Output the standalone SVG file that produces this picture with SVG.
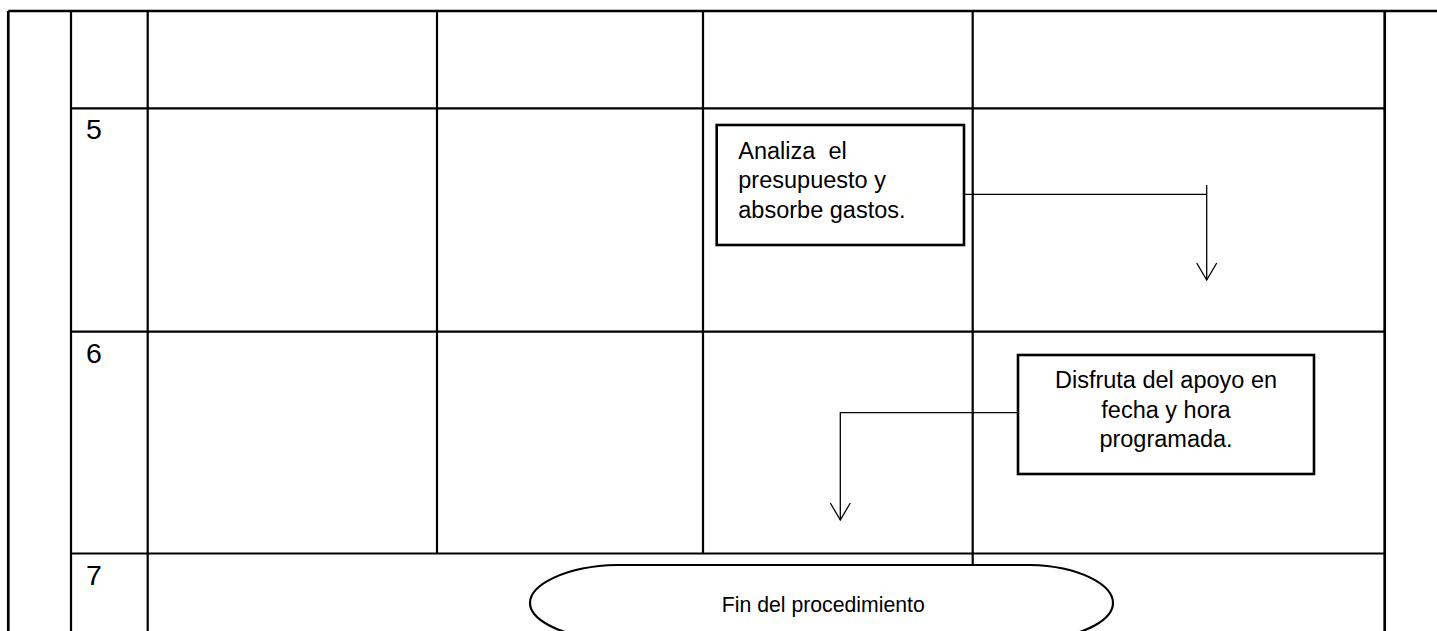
<svg xmlns="http://www.w3.org/2000/svg" width="1437" height="631" viewBox="0 0 1437 631">
<style>
.grid{stroke:#000;stroke-width:2.2;fill:none}
.outer{stroke:#000;stroke-width:2.7;fill:none}
.box{stroke:#000;stroke-width:2.6;fill:#fff}
.conn{stroke:#000;stroke-width:1.3;fill:none}
.lbl{font-family:"Liberation Sans",Arial,sans-serif;font-size:28.5px;fill:#000}
.txt{font-family:"Liberation Sans",Arial,sans-serif;font-size:23.5px;fill:#000;white-space:pre}
</style>
<rect x="0" y="0" width="1437" height="631" fill="#fff"/>
<g id="table">
<line class="outer" x1="8.3" y1="11" x2="1437" y2="11"/>
<line class="outer" x1="8.3" y1="11" x2="8.3" y2="631"/>
<line class="outer" x1="1384.7" y1="11" x2="1384.7" y2="631"/>
<line class="grid" x1="71" y1="11" x2="71" y2="631"/>
<line class="grid" x1="147.7" y1="11" x2="147.7" y2="631"/>
<line class="grid" x1="437" y1="11" x2="437" y2="553.5"/>
<line class="grid" x1="703" y1="11" x2="703" y2="553.5"/>
<line class="grid" x1="972.7" y1="11" x2="972.7" y2="565"/>
<line class="grid" x1="71" y1="108.3" x2="1384.7" y2="108.3"/>
<line class="grid" x1="71" y1="331.7" x2="1384.7" y2="331.7"/>
<line class="grid" x1="71" y1="553.5" x2="1384.7" y2="553.5"/>
<text class="lbl" x="86" y="139.3">5</text>
<text class="lbl" x="86" y="362.7">6</text>
<text class="lbl" x="86" y="584.5">7</text>
</g>
<g id="connectors">
<polyline class="conn" points="964,194.3 1206.7,194.3"/>
<line class="conn" x1="1206.7" y1="185" x2="1206.7" y2="280"/>
<polyline class="conn" points="1196.7,263 1206.7,280 1216.7,263"/>
<polyline class="conn" points="1018,412.7 840.3,412.7 840.3,520"/>
<polyline class="conn" points="830.3,503 840.3,520 850.3,503"/>
</g>
<g id="node-analiza">
<rect class="box" x="716.7" y="125" width="247.3" height="120"/>
<text class="txt" x="738.3" y="159.3" xml:space="preserve">Analiza  el</text>
<text class="txt" x="738.3" y="188.3">presupuesto y</text>
<text class="txt" x="738.3" y="218">absorbe gastos.</text>
</g>
<g id="node-disfruta">
<rect class="box" x="1018" y="355" width="296" height="119"/>
<text class="txt" x="1166" y="388.3" text-anchor="middle">Disfruta del apoyo en</text>
<text class="txt" x="1166" y="417.5" text-anchor="middle">fecha y hora</text>
<text class="txt" x="1166" y="447" text-anchor="middle">programada.</text>
</g>
<g id="node-fin">
<path d="M617,565 L1030,565 C1080,566 1113,585 1113,603 C1113,620 1085,634 1050,639 L595,639 C560,634 530,620 530,603 C530,585 565,566 617,565 Z" fill="#fff" stroke="#000" stroke-width="2.2"/>
<text x="823.3" y="611.7" text-anchor="middle" font-family="'Liberation Sans',Arial,sans-serif" font-size="22" textLength="203" lengthAdjust="spacingAndGlyphs">Fin del procedimiento</text>
</g>
</svg>
